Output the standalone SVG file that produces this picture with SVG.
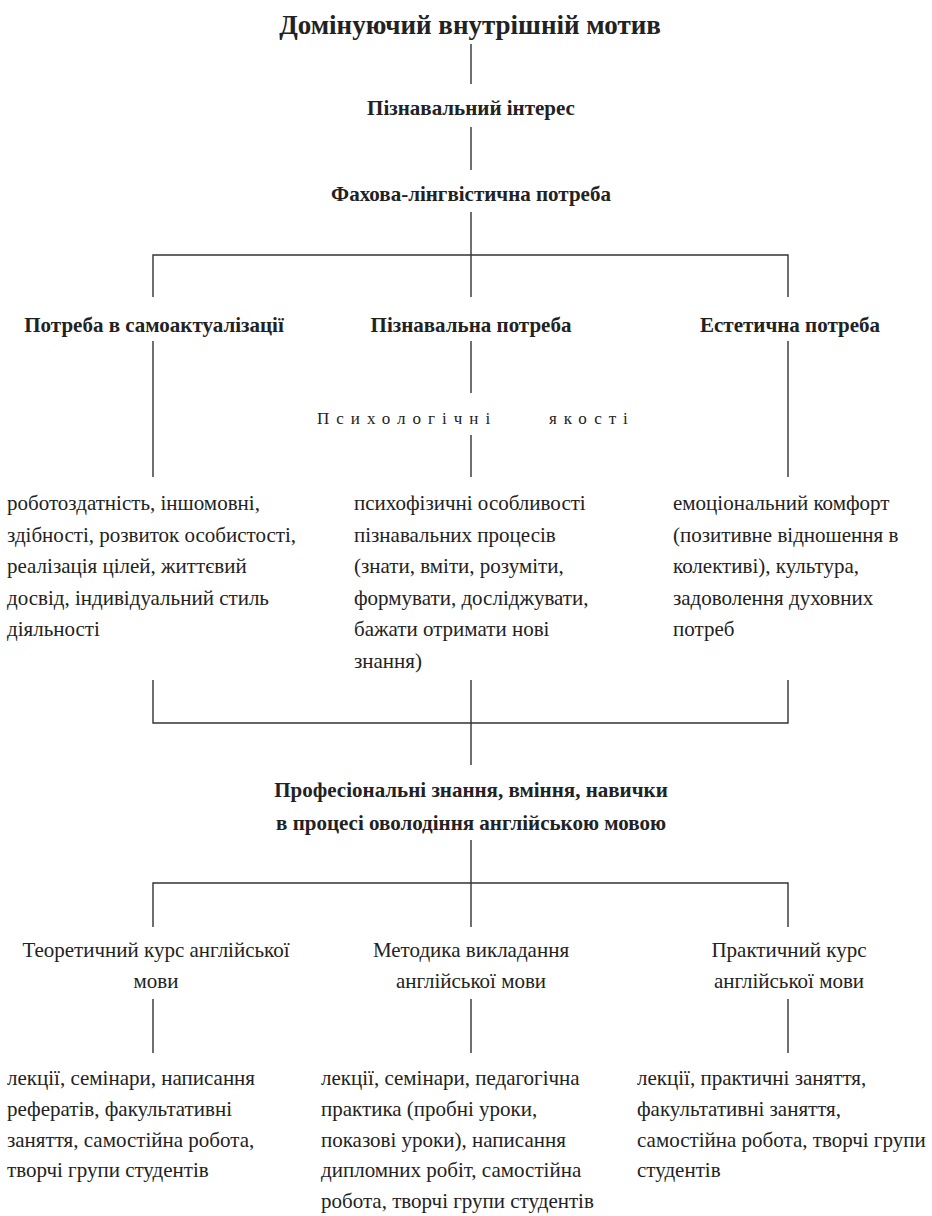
<svg xmlns="http://www.w3.org/2000/svg" width="932" height="1216" viewBox="0 0 932 1216">
<style>
text{font-family:"Liberation Serif","Times New Roman",serif;fill:#222}
.t{font-size:27px;font-weight:bold;text-anchor:middle}
.h{font-size:21px;font-weight:bold;text-anchor:middle}
.c{font-size:21px;text-anchor:middle}
.b{font-size:21px}
.p{font-size:17px;letter-spacing:7px}
.ln{stroke:#333;stroke-width:1.4;fill:none}
</style>
<rect width="932" height="1216" fill="#fff"/>
<g id="connectors" class="ln">
<line x1="471" y1="44" x2="471" y2="84"/>
<line x1="471" y1="127" x2="471" y2="170"/>
<line x1="471" y1="212" x2="471" y2="297"/>
<polyline points="153,297 153,255 788,255 788,297"/>
<line x1="153" y1="341" x2="153" y2="477"/>
<line x1="471" y1="341" x2="471" y2="393"/>
<line x1="471" y1="435" x2="471" y2="477"/>
<line x1="788" y1="341" x2="788" y2="477"/>
<polyline points="153,680 153,723 788,723 788,680"/>
<line x1="471" y1="680" x2="471" y2="765"/>
<line x1="471" y1="840" x2="471" y2="927"/>
<polyline points="153,927 153,883 788,883 788,927"/>
<line x1="153" y1="999" x2="153" y2="1053"/>
<line x1="471" y1="999" x2="471" y2="1053"/>
<line x1="788" y1="999" x2="788" y2="1053"/>
</g>
<g id="title"><text class="t" x="470" y="34">Домінуючий внутрішній мотив</text></g>
<g id="interest"><text class="h" x="471" y="115">Пізнавальний інтерес</text></g>
<g id="need"><text class="h" x="471" y="201">Фахова-лінгвістична потреба</text></g>
<g id="self"><text class="h" x="154" y="332">Потреба в самоактуалізації</text></g>
<g id="cognitive"><text class="h" x="471" y="332">Пізнавальна потреба</text></g>
<g id="aesthetic"><text class="h" x="790" y="332">Естетична потреба</text></g>
<g id="psych"><text class="p" x="317" y="424">Психологічні</text><text class="p" x="549" y="424">якості</text></g>
<g id="self-list">
<text class="b" x="7" y="510">роботоздатність, іншомовні,</text>
<text class="b" x="7" y="541.5">здібності, розвиток особистості,</text>
<text class="b" x="7" y="573">реалізація цілей, життєвий</text>
<text class="b" x="7" y="604.5">досвід, індивідуальний стиль</text>
<text class="b" x="7" y="636">діяльності</text>
</g>
<g id="cognitive-list">
<text class="b" x="354" y="510">психофізичні особливості</text>
<text class="b" x="354" y="541.5">пізнавальних процесів</text>
<text class="b" x="354" y="573">(знати, вміти, розуміти,</text>
<text class="b" x="354" y="604.5">формувати, досліджувати,</text>
<text class="b" x="354" y="636">бажати отримати нові</text>
<text class="b" x="354" y="667.5">знання)</text>
</g>
<g id="aesthetic-list">
<text class="b" x="673" y="510">емоціональний комфорт</text>
<text class="b" x="673" y="541.5">(позитивне відношення в</text>
<text class="b" x="673" y="573">колективі), культура,</text>
<text class="b" x="673" y="604.5">задоволення духовних</text>
<text class="b" x="673" y="636">потреб</text>
</g>
<g id="professional">
<text class="h" x="471" y="797">Професіональні знання, вміння, навички</text>
<text class="h" x="471" y="830">в процесі оволодіння англійською мовою</text>
</g>
<g id="theory">
<text class="c" x="156" y="957">Теоретичний курс англійської</text>
<text class="c" x="156" y="988">мови</text>
</g>
<g id="method">
<text class="c" x="471" y="957">Методика викладання</text>
<text class="c" x="471" y="988">англійської мови</text>
</g>
<g id="practice">
<text class="c" x="789" y="957">Практичний курс</text>
<text class="c" x="789" y="988">англійської мови</text>
</g>
<g id="theory-list">
<text class="b" x="7" y="1085">лекції, семінари, написання</text>
<text class="b" x="7" y="1116">рефератів, факультативні</text>
<text class="b" x="7" y="1147">заняття, самостійна робота,</text>
<text class="b" x="7" y="1177">творчі групи студентів</text>
</g>
<g id="method-list">
<text class="b" x="321" y="1085">лекції, семінари, педагогічна</text>
<text class="b" x="321" y="1116">практика (пробні уроки,</text>
<text class="b" x="321" y="1147">показові уроки), написання</text>
<text class="b" x="321" y="1177">дипломних робіт, самостійна</text>
<text class="b" x="321" y="1208">робота, творчі групи студентів</text>
</g>
<g id="practice-list">
<text class="b" x="637" y="1085">лекції, практичні заняття,</text>
<text class="b" x="637" y="1116">факультативні заняття,</text>
<text class="b" x="637" y="1147">самостійна робота, творчі групи</text>
<text class="b" x="637" y="1177">студентів</text>
</g>
</svg>
